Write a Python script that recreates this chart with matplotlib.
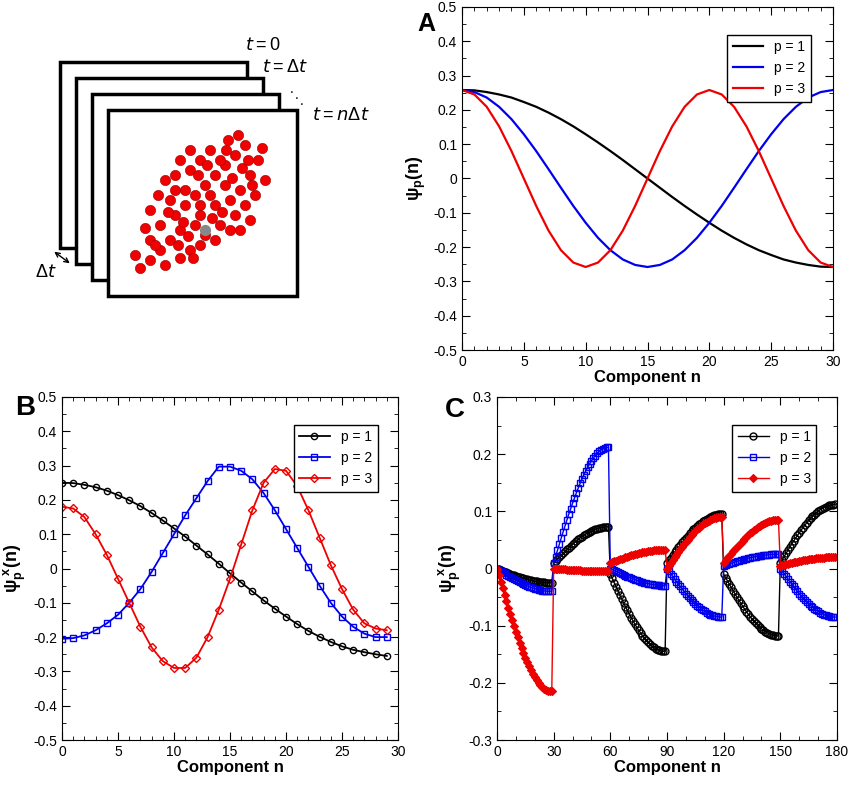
import matplotlib
matplotlib.use("Agg")
import matplotlib.pyplot as plt
from matplotlib.ticker import MultipleLocator, FuncFormatter
from matplotlib.patches import Rectangle, FancyArrowPatch
import numpy as np

plt.rcParams['font.family'] = ['Liberation Sans', 'DejaVu Sans']
plt.rcParams['mathtext.fontset'] = 'custom'
plt.rcParams['mathtext.rm'] = 'Liberation Sans'
plt.rcParams['mathtext.bf'] = 'Liberation Sans:bold'

# ---- Panel A data ----
nA = list(range(31))
A_p1 = [0.258, .257, .252, .245, .236, .223, .209, .192, .173, .152, .129, .105, .080, .054, .027, 0,
        -.027, -.054, -.080, -.105, -.129, -.152, -.173, -.192, -.209, -.223, -.236, -.245, -.252, -.257, -.258]
A_p2 = [.258, .252, .236, .209, .173, .129, .080, .027, -.027, -.080, -.129, -.173, -.209, -.236, -.252, -.258,
        -.252, -.236, -.209, -.173, -.129, -.080, -.027, .027, .080, .129, .173, .209, .236, .252, .258]
A_p3 = [.258, .245, .209, .152, .080, 0, -.080, -.152, -.209, -.245, -.258, -.245, -.209, -.152, -.080, 0,
        .080, .152, .209, .245, .258, .245, .209, .152, .080, 0, -.080, -.152, -.209, -.245, -.258]

# ---- Panel B data ----
nB = list(range(30))
B_p1 = [.25, .249, .244, .237, .227, .214, .199, .182, .162, .140, .117, .093, .067, .041, .014, -.014,
        -.041, -.067, -.093, -.117, -.140, -.162, -.182, -.199, -.214, -.227, -.237, -.244, -.25, -.255]
B_p2 = [-.205, -.203, -.195, -.18, -.16, -.135, -.10, -.06, -.01, .045, .10, .155, .205, .255, .297, .297,
        .285, .26, .22, .17, .115, .06, .005, -.05, -.10, -.14, -.17, -.19, -.20, -.20]
B_p3 = [.18, .175, .15, .10, .04, -.03, -.10, -.17, -.23, -.27, -.29, -.29, -.26, -.20, -.12, -.03,
        .07, .17, .25, .29, .285, .24, .17, .09, .01, -.06, -.12, -.16, -.175, -.18]

# ---- Panel C data: segment start/end values and within-segment profile ----
profile = [0, .054, .108, .162, .215, .268, .319, .370, .420, .468, .515, .561, .605, .647, .688,
           .726, .762, .796, .828, .857, .883, .908, .929, .948, .964, .977, .987, .994, .999, 1.0]
C_p1_start = [0.0, 0.01, -0.01, 0.01, -0.01, 0.01]
C_p1_end = [-0.025, 0.073, -0.145, 0.095, -0.118, 0.112]
C_p2_start = [0.0, 0.01, 0.0, 0.0, 0.005, 0.0]
C_p2_end = [-0.04, 0.212, -0.03, -0.085, 0.025, -0.085]
C_p3_start = [0.0, 0.0, 0.01, 0.0, 0.01, 0.005]
C_p3_end = [-0.215, -0.005, 0.033, 0.09, 0.085, 0.02]

def build(starts, ends):
    out = []
    for s, e in zip(starts, ends):
        out += [s + (e - s) * p for p in profile]
    return out

nC = list(range(180))
C_p1 = build(C_p1_start, C_p1_end)
C_p2 = build(C_p2_start, C_p2_end)
C_p3 = build(C_p3_start, C_p3_end)

fig = plt.figure(figsize=(8.5, 8.01), dpi=100)
W, H = 850, 801
def rect(l, t, r, b):
    return [l / W, 1 - b / H, (r - l) / W, (b - t) / H]

fmt = FuncFormatter(lambda v, p: ('%g' % round(v, 3)))
ylab = 'ψ$_\\mathbf{p}$(n)'
ylabx = 'ψ$_\\mathbf{p}^{\\ \\mathbf{x}}$(n)'

def style(ax, xmaj, xmin, ymaj, ymin):
    ax.xaxis.set_major_locator(MultipleLocator(xmaj))
    ax.xaxis.set_minor_locator(MultipleLocator(xmin))
    ax.yaxis.set_major_locator(MultipleLocator(ymaj))
    ax.yaxis.set_minor_locator(MultipleLocator(ymin))
    ax.tick_params(which='both', direction='in', top=True, right=True, labelsize=10)
    ax.tick_params(which='major', length=6)
    ax.tick_params(which='minor', length=3)
    ax.xaxis.set_major_formatter(fmt)
    ax.yaxis.set_major_formatter(fmt)
    ax.set_xlabel('Component n', fontsize=12, fontweight='bold', labelpad=1)

def leg(ax):
    ax.legend(loc='upper right', bbox_to_anchor=(0.96, 0.94), fontsize=10, frameon=True,
              fancybox=False, edgecolor='black', handlelength=2.2, framealpha=1)

# Panel A
axA = fig.add_axes(rect(462, 7, 833, 350))
axA.plot(nA, A_p1, color='black', lw=1.6, label='p = 1')
axA.plot(nA, A_p2, color='#0000ee', lw=1.6, label='p = 2')
axA.plot(nA, A_p3, color='#ee0000', lw=1.6, label='p = 3')
axA.set_xlim(0, 30); axA.set_ylim(-0.5, 0.5)
style(axA, 5, 1, 0.1, 0.05)
axA.set_ylabel(ylab, fontsize=13, fontweight='bold')
leg(axA)
fig.text(426 / W, 1 - 24 / H, 'A', fontsize=18, fontweight='bold', ha='center', va='center')

# Panel B
axB = fig.add_axes(rect(62, 397, 398, 740))
axB.plot(nB, B_p1, color='black', lw=1.3, marker='o', ms=4.5, mfc='none', mew=1, label='p = 1')
axB.plot(nB, B_p2, color='#0000ee', lw=1.3, marker='s', ms=4.5, mfc='none', mew=1, label='p = 2')
axB.plot(nB, B_p3, color='#ee0000', lw=1.3, marker='D', ms=4, mfc='none', mew=1, label='p = 3')
axB.set_xlim(0, 30); axB.set_ylim(-0.5, 0.5)
style(axB, 5, 1, 0.1, 0.05)
axB.set_ylabel(ylabx, fontsize=13, fontweight='bold')
leg(axB)
fig.text(25 / W, 1 - 408 / H, 'B', fontsize=20, fontweight='bold', ha='center', va='center')

# Panel C
axC = fig.add_axes(rect(497, 397, 837, 740))
axC.plot(nC, C_p1, color='black', lw=1.0, marker='o', ms=5, mfc='none', mew=1, label='p = 1')
axC.plot(nC, C_p2, color='#0000ee', lw=1.0, marker='s', ms=4.5, mfc='none', mew=1, label='p = 2')
axC.plot(nC, C_p3, color='#ee0000', lw=1.0, marker='D', ms=4, mfc='#ee0000', mew=0.8, label='p = 3')
axC.set_xlim(0, 180); axC.set_ylim(-0.3, 0.3)
style(axC, 30, 10, 0.1, 0.05)
axC.set_ylabel(ylabx, fontsize=13, fontweight='bold')
leg(axC)
fig.text(455 / W, 1 - 410 / H, 'C', fontsize=20, fontweight='bold', ha='center', va='center')

# Illustration
axI = fig.add_axes([0, 0, 1, 1], zorder=-1)
axI.set_xlim(0, W); axI.set_ylim(H, 0); axI.axis('off')
frames = [(60, 62, 247, 248), (76, 78, 263, 264), (92, 94, 279, 280), (108, 110, 297, 296)]
for (l, t, r, b) in frames:
    axI.add_patch(Rectangle((l, t), r - l, b - t, fill=True, fc='white', ec='black', lw=2.5))
blob = [(150, 260), (140, 268), (160, 250), (170, 240), (180, 230), (175, 215), (185, 205), (195, 195),
        (205, 185), (215, 175), (225, 165), (235, 155), (245, 145), (238, 135), (228, 140), (210, 150),
        (200, 160), (190, 170), (165, 180), (158, 195), (150, 210), (160, 225), (200, 215), (215, 205),
        (230, 200), (240, 190), (250, 175), (258, 160), (262, 148), (220, 225), (205, 235), (190, 250),
        (180, 258), (235, 215), (245, 205), (170, 200), (185, 190), (225, 185), (210, 195), (195, 225),
        (150, 240), (135, 255), (200, 245), (215, 240), (230, 230), (250, 220), (255, 195), (265, 180),
        (242, 168), (220, 160), (190, 150), (180, 160), (175, 175), (200, 205), (212, 218), (188, 236),
        (145, 228), (165, 265), (178, 245), (198, 175), (232, 178), (248, 160), (222, 212), (207, 165),
        (168, 212), (183, 222), (155, 245), (193, 258), (240, 230), (226, 150), (252, 185), (175, 190)]
bx = [p[0] for p in blob]; by = [p[1] for p in blob]
axI.scatter(bx, by, s=55, c='#f00000', edgecolors='#900000', linewidths=0.4, zorder=5)
axI.scatter([205], [230], s=50, c='#888888', zorder=6)
axI.text(245, 50, r'$t = 0$', fontsize=13)
axI.text(262, 72, r'$t = \Delta t$', fontsize=13)
axI.text(290, 93, '.', fontsize=10); axI.text(295, 99, '.', fontsize=10); axI.text(300, 105, '.', fontsize=10)
axI.text(312, 120, r'$t = n\Delta t$', fontsize=13)
axI.text(35, 277, r'$\Delta t$', fontsize=13)
axI.add_patch(FancyArrowPatch((52, 250), (72, 265), arrowstyle='<->', mutation_scale=8, lw=1, color='black'))

fig.savefig('out.png', dpi=100)
